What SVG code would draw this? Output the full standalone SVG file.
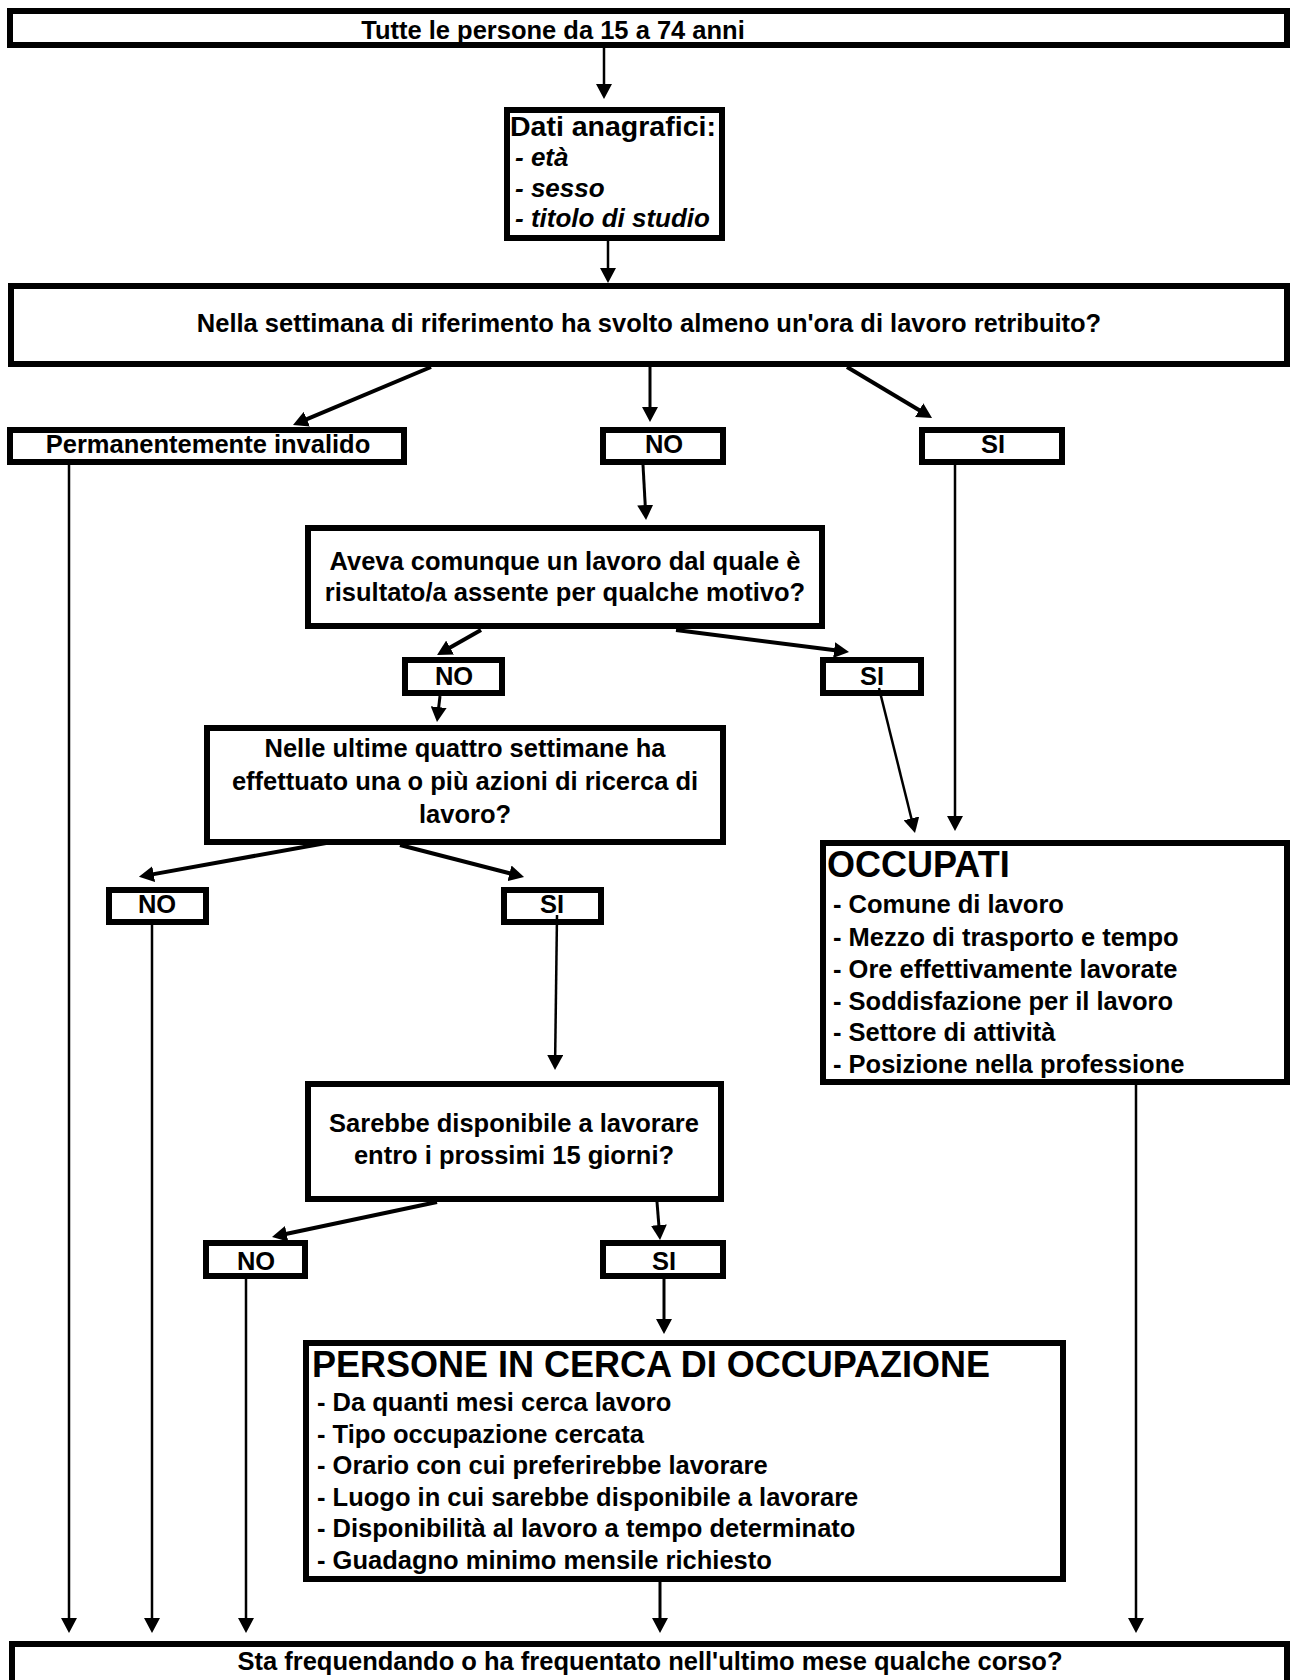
<svg xmlns="http://www.w3.org/2000/svg" width="1293" height="1680" viewBox="0 0 1293 1680">
<style>
.box{fill:#fff;stroke:#000;stroke-width:6}
.t{font-family:"Liberation Sans",Arial,Helvetica,sans-serif;font-weight:bold;font-size:25.5px;fill:#000}
.c{text-anchor:middle}
.d{font-size:26px}
.dh{font-size:28.5px}
.i{font-style:italic}
.h{font-size:36px}
.ln{fill:none;stroke:#000;stroke-width:2.5;marker-end:url(#ah)}
.tk{stroke-width:4}
.md{stroke-width:3}
</style>
<defs>
<marker id="ah" viewBox="0 0 15 16" refX="7" refY="8" markerWidth="15" markerHeight="16" markerUnits="userSpaceOnUse" orient="auto">
<path d="M0,0 L15,8 L0,16 z" fill="#000"/>
</marker>
</defs>
<rect width="1293" height="1680" fill="#fff"/>

<g id="n-top"><rect class="box" x="10" y="11" width="1277" height="34"/><text class="t c" x="553" y="39">Tutte le persone da 15 a 74 anni</text></g>
<g id="n-dati"><rect class="box" x="507" y="110" width="215" height="128"/>
<text class="t dh" x="510" y="136">Dati anagrafici:</text>
<text class="t d i" x="515" y="166">- età</text>
<text class="t d i" x="515" y="197">- sesso</text>
<text class="t d i" x="515" y="227">- titolo di studio</text></g>
<g id="n-q1"><rect class="box" x="11" y="286" width="1276" height="78"/><text class="t c" x="649" y="332">Nella settimana di riferimento ha svolto almeno un'ora di lavoro retribuito?</text></g>
<g id="n-perm"><rect class="box" x="10" y="430" width="394" height="32"/><text class="t c" x="208" y="453">Permanentemente invalido</text></g>
<g id="n-no1"><rect class="box" x="603" y="430" width="120" height="32"/><text class="t c" x="664" y="453">NO</text></g>
<g id="n-si1"><rect class="box" x="922" y="430" width="140" height="32"/><text class="t c" x="993" y="453">SI</text></g>
<g id="n-q2"><rect class="box" x="308" y="528" width="514" height="98"/>
<text class="t c" x="565" y="570">Aveva comunque un lavoro dal quale è</text>
<text class="t c" x="565" y="601">risultato/a assente per qualche motivo?</text></g>
<g id="n-no2"><rect class="box" x="405" y="660" width="97" height="33"/><text class="t c" x="454" y="685">NO</text></g>
<g id="n-si2"><rect class="box" x="823" y="660" width="98" height="33"/><text class="t c" x="872" y="685">SI</text></g>
<g id="n-q3"><rect class="box" x="207" y="728" width="516" height="114"/>
<text class="t c" x="465" y="757">Nelle ultime quattro settimane ha</text>
<text class="t c" x="465" y="790">effettuato una o più azioni di ricerca di</text>
<text class="t c" x="465" y="823">lavoro?</text></g>
<g id="n-no3"><rect class="box" x="109" y="890" width="97" height="32"/><text class="t c" x="157" y="913">NO</text></g>
<g id="n-si3"><rect class="box" x="504" y="890" width="97" height="32"/><text class="t c" x="552" y="913">SI</text></g>
<g id="n-occ"><rect class="box" x="823" y="843" width="464" height="239"/>
<text class="t h" x="827" y="877">OCCUPATI</text>
<text class="t" x="833" y="913">- Comune di lavoro</text>
<text class="t" x="833" y="946">- Mezzo di trasporto e tempo</text>
<text class="t" x="833" y="978">- Ore effettivamente lavorate</text>
<text class="t" x="833" y="1010">- Soddisfazione per il lavoro</text>
<text class="t" x="833" y="1041">- Settore di attività</text>
<text class="t" x="833" y="1073">- Posizione nella professione</text></g>
<g id="n-q4"><rect class="box" x="308" y="1084" width="413" height="115"/>
<text class="t c" x="514" y="1132">Sarebbe disponibile a lavorare</text>
<text class="t c" x="514" y="1164">entro i prossimi 15 giorni?</text></g>
<g id="n-no4"><rect class="box" x="206" y="1243" width="99" height="33"/><text class="t c" x="256" y="1270">NO</text></g>
<g id="n-si4"><rect class="box" x="603" y="1243" width="120" height="33"/><text class="t c" x="664" y="1270">SI</text></g>
<g id="n-pers"><rect class="box" x="306" y="1343" width="757" height="236"/>
<text class="t h" x="312" y="1377">PERSONE IN CERCA DI OCCUPAZIONE</text>
<text class="t" x="317" y="1411">- Da quanti mesi cerca lavoro</text>
<text class="t" x="317" y="1443">- Tipo occupazione cercata</text>
<text class="t" x="317" y="1474">- Orario con cui preferirebbe lavorare</text>
<text class="t" x="317" y="1506">- Luogo in cui sarebbe disponibile a lavorare</text>
<text class="t" x="317" y="1537">- Disponibilità al lavoro a tempo determinato</text>
<text class="t" x="317" y="1569">- Guadagno minimo mensile richiesto</text></g>
<g id="n-bottom"><rect class="box" x="12" y="1644" width="1275" height="100"/><text class="t c" x="650" y="1670">Sta frequendando o ha frequentato nell'ultimo mese qualche corso?</text></g>

<g id="connectors">
<path class="ln" d="M604,48 L604,91"/>
<path class="ln" d="M608,241 L608,275"/>
<path class="ln tk" d="M431,367 L300.4,421.9"/>
<path class="ln md" d="M650,367 L650,414"/>
<path class="ln tk" d="M847,367 L925.2,413.8"/>
<path class="ln" d="M69,465 L69,1625"/>
<path class="ln md" d="M643,465 L645.6,512"/>
<path class="ln" d="M955,465 L955,823"/>
<path class="ln tk" d="M481,630 L444,651"/>
<path class="ln tk" d="M676,630 L841.1,651"/>
<path class="ln md" d="M440,696 L437.9,714.1"/>
<path class="ln" d="M879,688 L913.1,825.2"/>
<path class="ln tk" d="M326,843 L146.8,875.4"/>
<path class="ln tk" d="M400,845 L516.3,875"/>
<path class="ln" d="M152,925 L152,1625"/>
<path class="ln" d="M557,915 L555.1,1062"/>
<path class="ln tk" d="M437,1202 L279.8,1235.3"/>
<path class="ln md" d="M657,1202 L659.4,1232"/>
<path class="ln" d="M246,1279 L246,1625"/>
<path class="ln md" d="M664,1279 L664,1326"/>
<path class="ln md" d="M660,1582 L660,1625"/>
<path class="ln" d="M1136,1085 L1136,1625"/>
</g>
</svg>
